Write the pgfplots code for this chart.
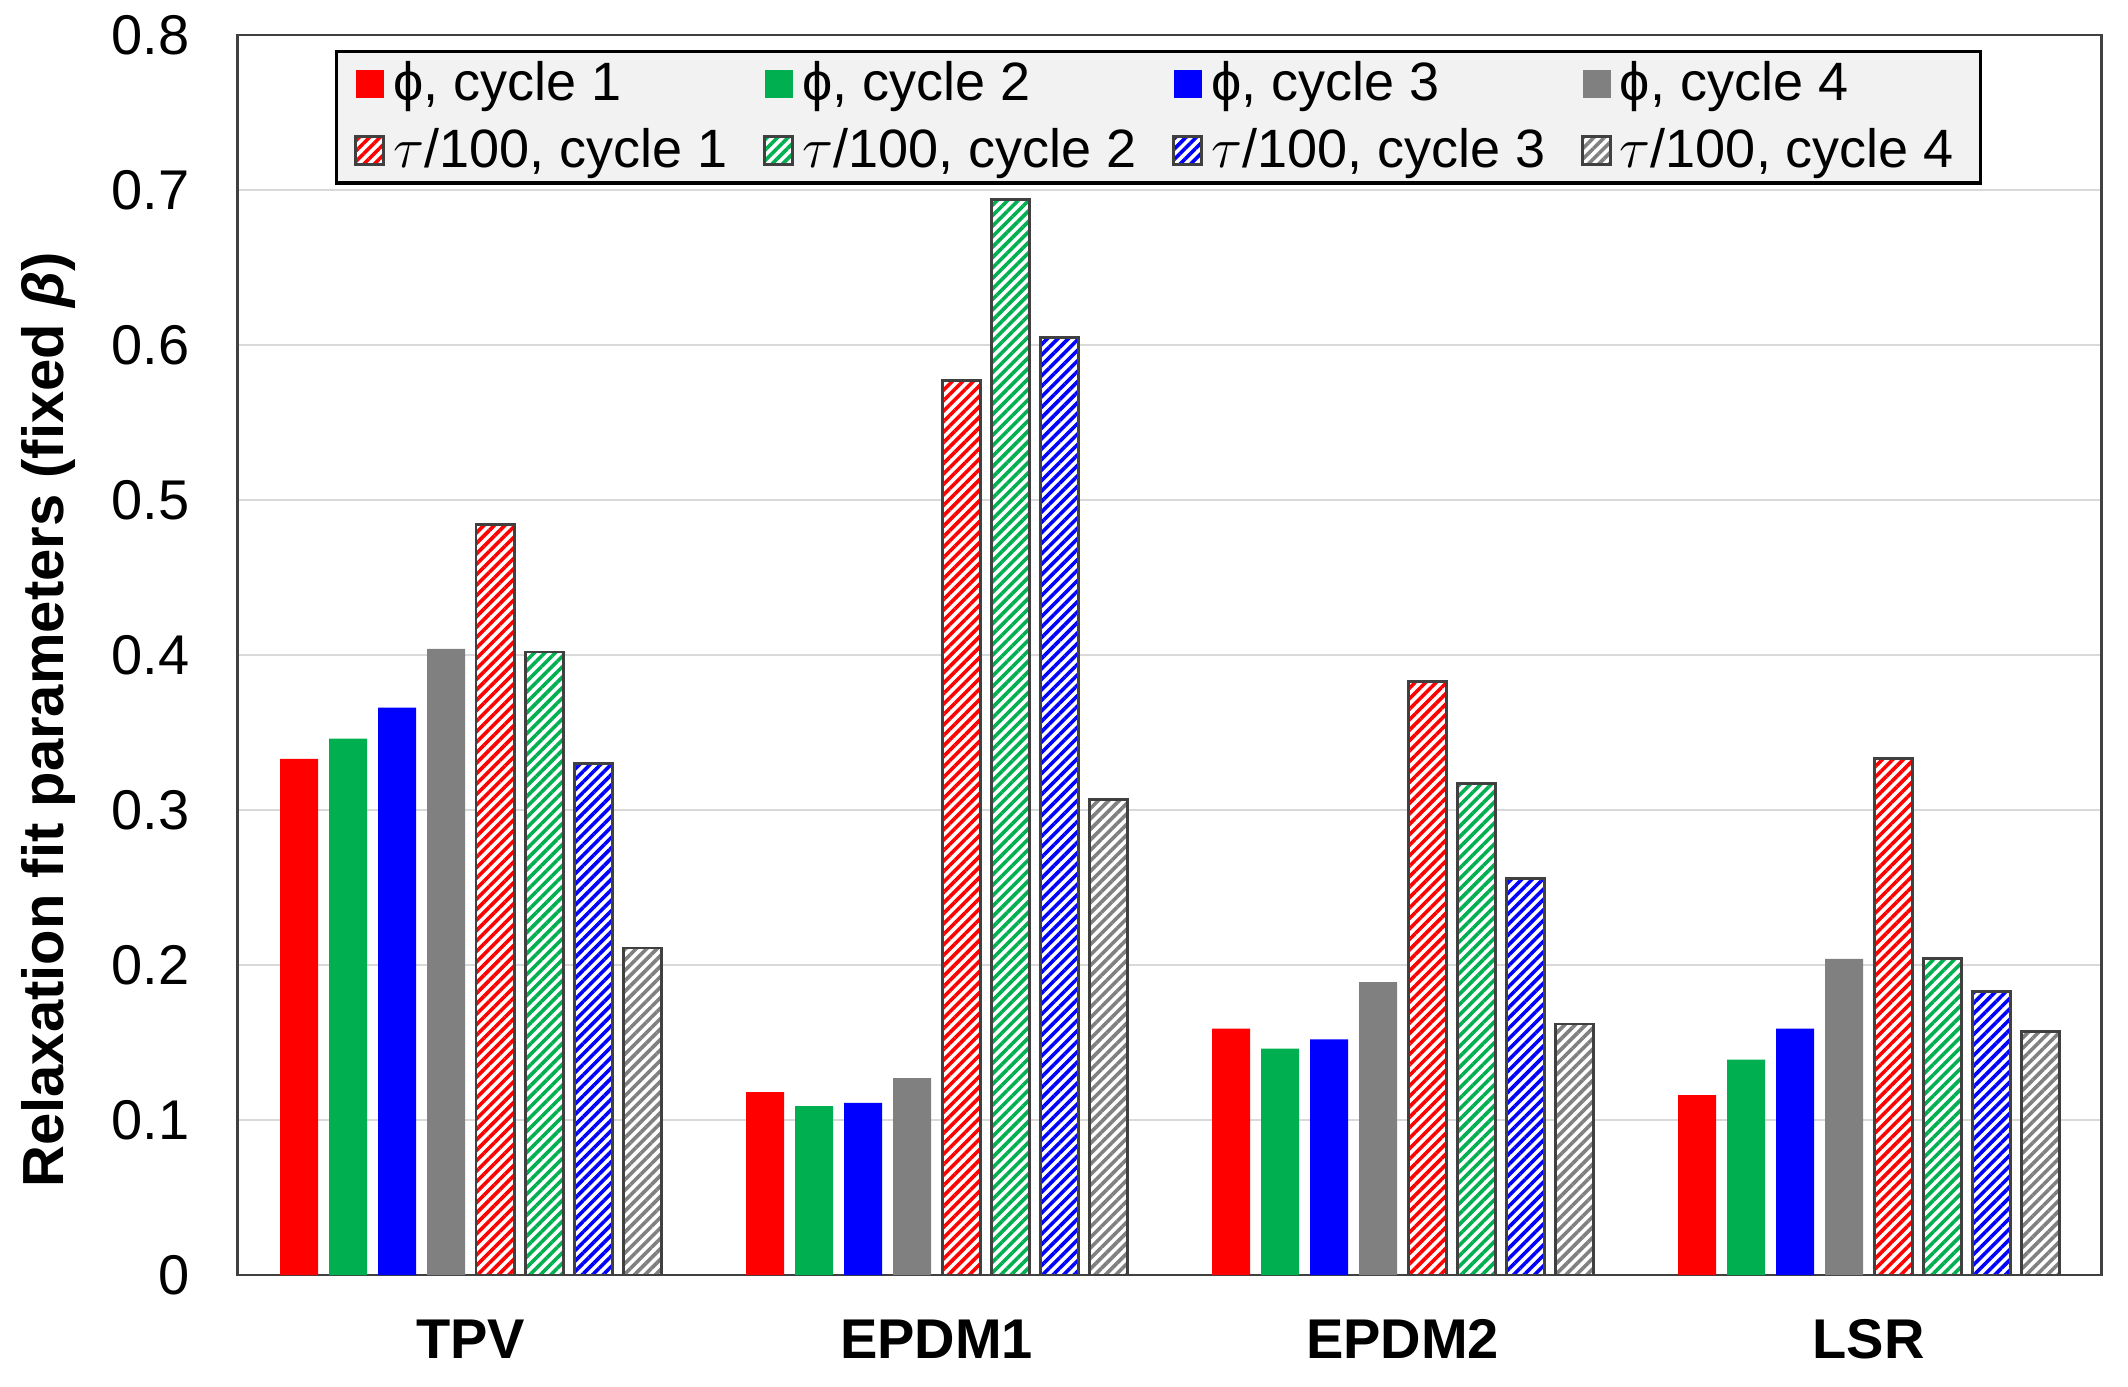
\documentclass[border=0pt]{standalone}
\usepackage{fontspec}
\setmainfont{Liberation Sans}
\usepackage{pgfplots}
\pgfplotsset{compat=1.18}
\usetikzlibrary{patterns.meta}

\definecolor{cred}{HTML}{FF0000}
\definecolor{cgreen}{HTML}{00B050}
\definecolor{cblue}{HTML}{0000FF}
\definecolor{cgray}{HTML}{808080}

\tikzset{
  solidbar/.style={fill=#1, draw=none},
  hatchbar/.style={fill=white, draw=black!75, line width=0.7pt,
    postaction={pattern={Lines[angle=45,distance=1.85pt,line width=0.9pt]}, pattern color=#1}},
}

\begin{document}
\begin{tikzpicture}
\useasboundingbox (-59.4pt,-27.75pt) rectangle (472.6pt,318.75pt);
\begin{axis}[
    at={(0,0)}, anchor=south west,
    scale only axis,
    width=466pt,
    height=310pt,
    ybar=2.75pt,
    bar width=9.5pt,
    xmin=-0.5, xmax=3.5,
    ymin=0, ymax=0.8,
    xtick={0,1,2,3},
    xticklabels={TPV,EPDM1,EPDM2,LSR},
    ytick={0,0.1,...,0.8},
    major tick length=0pt,
    ymajorgrids=true,
    grid style={line width=0.7pt, black!15},
    axis line style={black!75, line width=0.7pt},
    /pgf/number format/assume math mode=true,
    yticklabel style={font=\fontsize{14}{16}\selectfont, xshift=-8.5pt,
      /pgf/number format/fixed, /pgf/number format/precision=1},
    xticklabel style={font=\fontsize{14}{16}\selectfont\bfseries, yshift=-7.6pt},
    ylabel={\bfseries Relaxation fit parameters (fixed \textit{β})},
    ylabel style={font=\fontsize{14.5}{16}\selectfont, at={(axis description cs:-0.1015,0.4477)}, anchor=center},
    legend columns=4,
    legend cell align=left,
    legend image code/.code={\path[#1] (0pt,-3.5pt) rectangle (7pt,3.5pt);},
    legend style={
        at={(0.0522,0.9879)}, anchor=north west,
        fill=black!5, draw=black, line width=0.8pt,
        font=\fontsize{13.5}{16}\selectfont,
        inner xsep=4.5pt, inner ysep=1pt,
        row sep=2.3pt,
        nodes={inner xsep=2pt, inner ysep=1.5pt},
        /tikz/every even column/.append style={column sep=7pt},
    },
]
\addplot[solidbar=cred] coordinates {(0,0.333) (1,0.118) (2,0.159) (3,0.116)};
\addlegendentry{ϕ, cycle 1}
\addplot[solidbar=cgreen] coordinates {(0,0.346) (1,0.109) (2,0.146) (3,0.139)};
\addlegendentry{ϕ, cycle 2}
\addplot[solidbar=cblue] coordinates {(0,0.366) (1,0.111) (2,0.152) (3,0.159)};
\addlegendentry{ϕ, cycle 3}
\addplot[solidbar=cgray] coordinates {(0,0.404) (1,0.127) (2,0.189) (3,0.204)};
\addlegendentry{ϕ, cycle 4}
\addplot[hatchbar=cred] coordinates {(0,0.484) (1,0.577) (2,0.383) (3,0.333)};
\addlegendentry{$\tau$/100, cycle 1}
\addplot[hatchbar=cgreen] coordinates {(0,0.402) (1,0.694) (2,0.317) (3,0.204)};
\addlegendentry{$\tau$/100, cycle 2}
\addplot[hatchbar=cblue] coordinates {(0,0.330) (1,0.605) (2,0.256) (3,0.183)};
\addlegendentry{$\tau$/100, cycle 3}
\addplot[hatchbar=cgray] coordinates {(0,0.211) (1,0.307) (2,0.162) (3,0.157)};
\addlegendentry{$\tau$/100, cycle 4}
\end{axis}
\end{tikzpicture}
\end{document}
